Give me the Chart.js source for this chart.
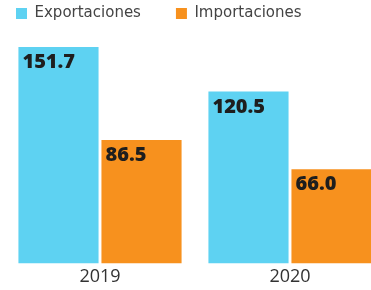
<!DOCTYPE html>
<html>
<head>
<meta charset="utf-8">
<script src="https://cdn.jsdelivr.net/npm/chart.js@4.4.0/dist/chart.umd.min.js"></script>
<style>
  html, body { margin: 0; padding: 0; background: #fff; overflow: hidden; width: 371px; height: 290px; }
  /* canvas is shifted so the legend spacing and the clipped right bar line up */
  #wrap { position: absolute; left: -19px; top: -29px; width: 404px; height: 322px; }
</style>
</head>
<body>
<div id="wrap"><canvas id="comercio"></canvas></div>
<script>
const years = ['2019', '2020'];
const exportaciones = [151.7, 120.5];
const importaciones = [86.5, 66.0];
const seriesNames = ['Exportaciones', 'Importaciones'];

// value written inside the top-left corner of each bar
const barLabels = {
    id: 'barLabels',
    afterDatasetsDraw(chart) {
        const ctx = chart.ctx;
        ctx.save();
        ctx.font = '800 20px "Open Sans"';
        ctx.fillStyle = '#1e1e1e';
        ctx.textAlign = 'left';
        ctx.textBaseline = 'alphabetic';
        chart.data.datasets.forEach((ds, i) => {
            chart.getDatasetMeta(i).data.forEach((bar, j) => {
                const left = bar.x - bar.width / 2;
                ctx.fillText(ds.data[j].toFixed(1), left + 4, bar.y + 21);
            });
        });
        ctx.restore();
    }
};

new Chart(
    document.getElementById('comercio'),
    {
        type: 'bar',
        data: {
            labels: years,
            datasets: [
                {
                    label: seriesNames[0],
                    data: exportaciones,
                    backgroundColor: '#5ed2f2',
                    borderWidth: 0,
                    categoryPercentage: 0.874,
                    barPercentage: 0.965
                },
                {
                    label: seriesNames[1],
                    data: importaciones,
                    backgroundColor: '#f7911e',
                    borderWidth: 0,
                    categoryPercentage: 0.874,
                    barPercentage: 0.965
                }
            ]
        },
        options: {
            responsive: true,
            maintainAspectRatio: false,
            animation: false,
            layout: { padding: { left: 0, right: 0, top: 0, bottom: 2 } },
            plugins: {
                legend: {
                    position: 'top',
                    align: 'start',
                    labels: {
                        boxWidth: 11,
                        boxHeight: 11,
                        padding: 35,
                        color: '#444',
                        font: { family: 'DejaVu Sans', size: 15 }
                    }
                },
                tooltip: { enabled: false }
            },
            scales: {
                x: {
                    grid: { display: false, drawTicks: false },
                    border: { display: false },
                    ticks: {
                        color: '#333',
                        padding: 3,
                        font: { family: 'Open Sans', size: 18 }
                    }
                },
                y: {
                    min: 0,
                    max: 163,
                    grid: { display: false, drawTicks: false },
                    border: { display: false },
                    ticks: { display: false },
                    afterFit: axis => { axis.width = 24; }
                }
            }
        },
        plugins: [barLabels]
    }
);
</script>
</body>
</html>
